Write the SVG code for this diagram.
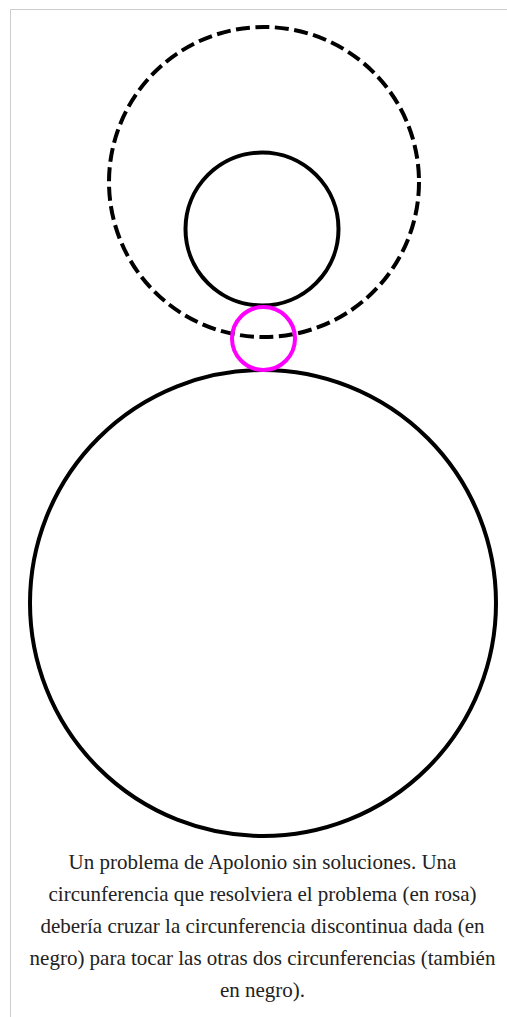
<svg xmlns="http://www.w3.org/2000/svg" width="507" height="1017" viewBox="0 0 507 1017">
  <style>
    .frame { stroke: #cccccc; stroke-width: 1; fill: none; }
    .given { fill: none; stroke: #000000; stroke-width: 4; }
    .dashed { stroke-dasharray: 14 5.5; }
    .solution { fill: none; stroke: #ff00ff; stroke-width: 4; }
    .caption { font-size: 21px; fill: #222222; text-anchor: middle; }
  </style>
  <rect x="0" y="0" width="507" height="1017" fill="#ffffff"/>
  <g id="frame">
    <line class="frame" x1="10.5" y1="9.5" x2="507" y2="9.5"/>
    <line class="frame" x1="10.5" y1="9.5" x2="10.5" y2="1017"/>
  </g>
  <g id="dashed-circle">
    <circle class="given dashed" cx="264" cy="182" r="155"/>
  </g>
  <g id="small-circle">
    <circle class="given" cx="262" cy="229" r="76.5"/>
  </g>
  <g id="big-circle">
    <circle class="given" cx="263" cy="603" r="233"/>
  </g>
  <g id="solution-circle">
    <circle class="solution" cx="263.5" cy="338.5" r="31.5"/>
  </g>
  <g id="caption" font-family="'Liberation Serif', 'Times New Roman', serif">
    <text class="caption" x="262.5" y="869">Un problema de Apolonio sin soluciones. Una</text>
    <text class="caption" x="262.5" y="901">circunferencia que resolviera el problema (en rosa)</text>
    <text class="caption" x="262.5" y="933">debería cruzar la circunferencia discontinua dada (en</text>
    <text class="caption" x="262.5" y="965">negro) para tocar las otras dos circunferencias (también</text>
    <text class="caption" x="262.5" y="997">en negro).</text>
  </g>
</svg>
